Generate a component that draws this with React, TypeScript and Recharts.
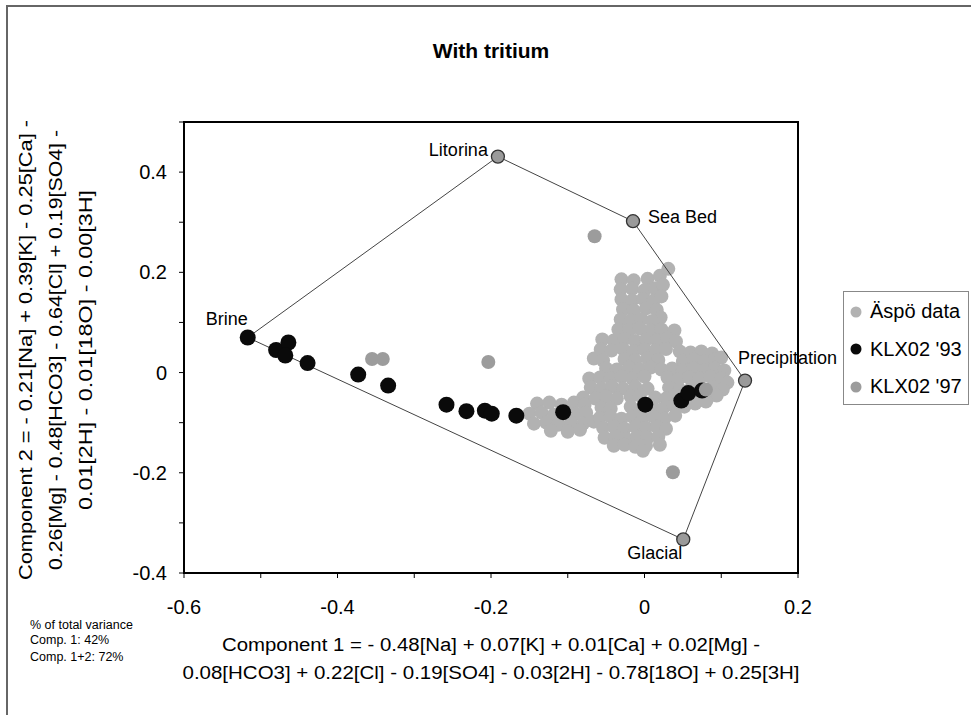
import React from 'react';
import { ScatterChart, Scatter, XAxis, YAxis, ReferenceArea } from 'recharts';

const FONT = '"Liberation Sans", Arial, sans-serif';

// ---------- data ----------
const xTicks = [-0.6, -0.5, -0.4, -0.3, -0.2, -0.1, 0, 0.1, 0.2];
const yTicks = [-0.4, -0.3, -0.2, -0.1, 0, 0.1, 0.2, 0.3, 0.4, 0.5];

// Äspö data (light grey cloud)
const aspoPoints: [number, number][] = [
  [-0.030, 0.186], [-0.014, 0.184], [0.004, 0.187], [0.020, 0.193], [0.031, 0.207],
  [-0.031, 0.166], [-0.016, 0.167], [0.000, 0.164], [0.014, 0.168], [0.024, 0.175],
  [-0.030, 0.146], [-0.016, 0.144], [-0.002, 0.147], [0.012, 0.144], [0.022, 0.152],
  [-0.028, 0.126], [-0.014, 0.124], [0.002, 0.128], [0.016, 0.125], [0.021, 0.110],
  [-0.031, 0.106], [-0.018, 0.104], [-0.004, 0.107], [0.010, 0.103],
  [-0.034, 0.086], [-0.020, 0.085], [-0.006, 0.088], [0.008, 0.084], [0.022, 0.086], [0.039, 0.084],
  [-0.055, 0.066], [-0.040, 0.064], [-0.026, 0.067], [-0.012, 0.063], [0.002, 0.066], [0.016, 0.064], [0.030, 0.068], [0.041, 0.062],
  [-0.057, 0.046], [-0.043, 0.044], [-0.028, 0.047], [-0.014, 0.043], [0.000, 0.046], [0.014, 0.044], [0.028, 0.047], [0.046, 0.042], [0.060, 0.040], [0.074, 0.042], [0.088, 0.038],
  [-0.066, 0.028], [-0.054, 0.024], [-0.026, 0.027], [-0.012, 0.024], [0.004, 0.028], [0.018, 0.025], [0.050, 0.022], [0.064, 0.026], [0.078, 0.022], [0.092, 0.026], [0.100, 0.030],
  [-0.050, 0.008], [-0.036, 0.006], [-0.020, 0.010], [-0.006, 0.006], [0.008, 0.010], [0.022, 0.006], [0.036, 0.008], [0.050, 0.004], [0.064, 0.008], [0.078, 0.004], [0.092, 0.008], [0.104, 0.004],
  [-0.072, -0.012], [-0.058, -0.010], [-0.044, -0.012], [-0.030, -0.008], [-0.016, -0.012], [0.000, -0.008], [0.030, -0.010], [0.044, -0.014], [0.058, -0.010], [0.072, -0.012], [0.086, -0.008], [0.100, -0.012], [0.108, -0.020],
  [-0.070, -0.030], [-0.056, -0.032], [-0.042, -0.028], [-0.028, -0.032], [-0.012, -0.028], [0.004, -0.032], [0.032, -0.030], [0.046, -0.034], [0.062, -0.028], [0.090, -0.030], [0.102, -0.034],
  [-0.080, -0.050], [-0.064, -0.052], [-0.050, -0.048], [-0.036, -0.052], [-0.018, -0.048], [-0.006, -0.046], [0.014, -0.050], [0.028, -0.052], [0.040, -0.046], [0.068, -0.050], [0.082, -0.052], [0.094, -0.046],
  [-0.140, -0.062], [-0.124, -0.060], [-0.108, -0.064], [-0.092, -0.060], [-0.078, -0.064],
  [-0.150, -0.082], [-0.134, -0.080], [-0.118, -0.084], [-0.090, -0.082], [-0.076, -0.080],
  [-0.144, -0.102], [-0.128, -0.100], [-0.112, -0.104], [-0.096, -0.100], [-0.080, -0.102], [-0.066, -0.098],
  [-0.122, -0.116], [-0.100, -0.118], [-0.084, -0.114],
  [-0.056, -0.070], [-0.044, -0.072], [-0.018, -0.068], [-0.004, -0.072], [0.010, -0.068], [0.024, -0.072], [0.038, -0.066], [0.052, -0.068], [0.066, -0.062], [0.080, -0.058],
  [-0.058, -0.090], [-0.044, -0.088], [-0.030, -0.092], [-0.016, -0.088], [-0.002, -0.090], [0.012, -0.088], [0.026, -0.092], [0.040, -0.086],
  [-0.054, -0.110], [-0.040, -0.108], [-0.026, -0.112], [-0.012, -0.108], [0.002, -0.110], [0.016, -0.108], [0.028, -0.112],
  [-0.052, -0.130], [-0.038, -0.128], [-0.024, -0.132], [-0.010, -0.128], [0.004, -0.130], [0.018, -0.128],
  [-0.040, -0.146], [-0.026, -0.144], [-0.012, -0.148], [0.002, -0.146], [0.020, -0.144],
  [-0.002, -0.156],
];

// KLX02 '93 (black)
const klx93Points: [number, number][] = [
  [-0.517, 0.070], [-0.480, 0.045], [-0.464, 0.060], [-0.468, 0.034], [-0.439, 0.019],
  [-0.373, -0.004], [-0.334, -0.026], [-0.258, -0.064], [-0.232, -0.077], [-0.208, -0.076],
  [-0.199, -0.082], [-0.167, -0.086], [-0.106, -0.079], [0.001, -0.064], [0.048, -0.056],
  [0.057, -0.041], [0.075, -0.036],
];

// KLX02 '97 (grey)
const klx97Points: [number, number][] = [
  [-0.355, 0.027], [-0.341, 0.027], [-0.2035, 0.021], [-0.065, 0.272], [0.037, -0.199], [0.080, -0.034],
];

// End-members
const endNames = ['Brine', 'Litorina', 'Sea Bed', 'Precipitation', 'Glacial'];
const endX = [-0.517, -0.191, -0.015, 0.131, 0.0505];
const endY = [0.070, 0.431, 0.302, -0.016, -0.333];
// polygon order (closed)
const polygonOrder = [0, 1, 2, 3, 4, 0];

const seriesNames = ['Äspö data', "KLX02 '93", "KLX02 '97"];

// ---------- derived ----------
const toObj = (arr: [number, number][]) => arr.map(([x, y]) => ({ x, y }));
const aspoData = toObj(aspoPoints);
const klx93Data = toObj(klx93Points);
const klx97Data = toObj(klx97Points);
const endData = endNames.map((name, i) => ({ name, x: endX[i], y: endY[i] }));
const polygonData = polygonOrder.map((i) => ({ x: endX[i], y: endY[i] }));

const COLORS = { aspo: '#b2b2b2', k93: '#0a0a0a', k97: '#9c9c9c', end: '#9a9a9a' };
const seriesColors = [COLORS.aspo, COLORS.k93, COLORS.k97];

const labelPlacement: Record<string, { dx: number; dy: number; anchor: 'start' | 'end' }> = {
  Brine: { dx: 0, dy: -18, anchor: 'end' },
  Litorina: { dx: -10, dy: -7, anchor: 'end' },
  'Sea Bed': { dx: 15, dy: -4, anchor: 'start' },
  Precipitation: { dx: -7, dy: -23, anchor: 'start' },
  Glacial: { dx: -1, dy: 14, anchor: 'end' },
};

const fmt = (v: number) => {
  const r = Math.round(v * 10) / 10;
  return r === 0 ? '0' : String(r);
};
const isMajor = (v: number) => Math.abs(Math.round(v * 10)) % 2 === 0;

const YTick = (props: any) => {
  const { x, y, payload } = props;
  const v = payload.value;
  if (!isMajor(v) || v > 0.45) return <g />;
  return (
    <text x={x} y={y} textAnchor="end" dominantBaseline="central" fontSize={20} fontFamily={FONT} fill="#000">
      {fmt(v)}
    </text>
  );
};

const XTick = (props: any) => {
  const { x, y, payload } = props;
  const v = payload.value;
  if (!isMajor(v)) return <g />;
  return (
    <text x={x} y={y} dy="0.71em" textAnchor="middle" fontSize={20} fontFamily={FONT} fill="#000">
      {fmt(v)}
    </text>
  );
};

const circleShape = (r: number, fill: string) => (p: any) =>
  <circle cx={p.cx} cy={p.cy} r={r} fill={fill} />;

const EndShape = (p: any) => {
  const name = p.payload?.name as string;
  const pl = labelPlacement[name];
  return (
    <g>
      <circle cx={p.cx} cy={p.cy} r={6.5} fill={COLORS.end} stroke="#333" strokeWidth={1.3} />
      {pl && (
        <text
          x={p.cx + pl.dx}
          y={p.cy + pl.dy}
          textAnchor={pl.anchor}
          dominantBaseline="central"
          fontSize={18}
          fontFamily={FONT}
          fill="#000"
        >
          {name}
        </text>
      )}
    </g>
  );
};

const LegendBox = () => (
  <div
    style={{
      position: 'absolute',
      left: 843,
      top: 291,
      border: '1px solid #888',
      width: 126,
      height: 114,
      boxSizing: 'border-box',
      background: '#fff',
      fontFamily: FONT,
      paddingTop: 1,
    }}
  >
    {seriesNames.map((name, i) => (
      <div key={name} style={{ display: 'flex', alignItems: 'center', height: 37.5, whiteSpace: 'nowrap' }}>
        <svg width={26} height={20} style={{ flex: 'none' }}>
          <circle cx={12} cy={10} r={5.5} fill={seriesColors[i]} />
        </svg>
        <span style={{ fontSize: 20, color: '#000' }}>{name}</span>
      </div>
    ))}
  </div>
);

export default function App() {
  return (
    <div style={{ position: 'absolute', left: 0, top: 0, width: 971, height: 715, background: '#fff', overflow: 'hidden' }}>
      <div
        style={{
          position: 'absolute',
          left: 6,
          top: 5,
          width: 1000,
          height: 800,
          borderTop: '2px solid #666',
          borderLeft: '2px solid #666',
        }}
      />
      <div style={{ position: 'absolute', left: 0, top: 0 }}>
        <ScatterChart width={971} height={715} margin={{ top: 122, right: 173, bottom: 0, left: 0 }}>
          <XAxis
            type="number"
            dataKey="x"
            domain={[-0.6, 0.2]}
            ticks={xTicks}
            interval={0}
            height={142}
            axisLine={false}
            tickLine={{ stroke: '#000', strokeWidth: 1 }}
            tickSize={5}
            tickMargin={22}
            tick={<XTick />}
          />
          <YAxis
            type="number"
            dataKey="y"
            domain={[-0.4, 0.5]}
            ticks={yTicks}
            interval={0}
            width={184}
            axisLine={false}
            tickLine={{ stroke: '#000', strokeWidth: 1 }}
            tickSize={5}
            tickMargin={12}
            tick={<YTick />}
          />
          <ReferenceArea x1={-0.6} x2={0.2} y1={-0.4} y2={0.5} fill="none" stroke="#000" strokeWidth={2} ifOverflow="visible" />
          <Scatter
            name={seriesNames[0]}
            data={aspoData}
            fill={COLORS.aspo}
            shape={circleShape(7, COLORS.aspo)}
            isAnimationActive={false}
          />
          <Scatter
            name="polygon"
            data={polygonData}
            fill="#444"
            line={{ stroke: '#444', strokeWidth: 1 }}
            shape={() => <g />}
            legendType="none"
            isAnimationActive={false}
          />
          <Scatter
            name="End-members"
            data={endData}
            fill={COLORS.end}
            shape={EndShape}
            legendType="none"
            isAnimationActive={false}
          />
          <Scatter
            name={seriesNames[1]}
            data={klx93Data}
            fill={COLORS.k93}
            shape={circleShape(8, COLORS.k93)}
            isAnimationActive={false}
          />
          <Scatter
            name={seriesNames[2]}
            data={klx97Data}
            fill={COLORS.k97}
            shape={circleShape(7, COLORS.k97)}
            isAnimationActive={false}
          />
        </ScatterChart>
      </div>
      <LegendBox />
      <svg
        width={971}
        height={715}
        style={{ position: 'absolute', left: 0, top: 0, pointerEvents: 'none' }}
        fontFamily={FONT}
      >
        <text x={491} y={58} textAnchor="middle" fontSize={21} fontWeight="bold" fill="#000">
          With tritium
        </text>
        <g fontSize={18} fill="#000">
          <text x={26} y={350} transform="rotate(-90 26 350)" textAnchor="middle" dominantBaseline="central" textLength={460} lengthAdjust="spacingAndGlyphs">
            Component 2 = - 0.21[Na] + 0.39[K] - 0.25[Ca] -
          </text>
          <text x={56} y={350} transform="rotate(-90 56 350)" textAnchor="middle" dominantBaseline="central" textLength={440} lengthAdjust="spacingAndGlyphs">
            0.26[Mg] - 0.48[HCO3] - 0.64[Cl] + 0.19[SO4] -
          </text>
          <text x={86} y={350} transform="rotate(-90 86 350)" textAnchor="middle" dominantBaseline="central" textLength={320} lengthAdjust="spacingAndGlyphs">
            0.01[2H] - 0.01[18O] - 0.00[3H]
          </text>
          <text x={491} y={645} textAnchor="middle" dominantBaseline="central" textLength={538} lengthAdjust="spacingAndGlyphs">
            Component 1 = - 0.48[Na] + 0.07[K] + 0.01[Ca] + 0.02[Mg] -
          </text>
          <text x={491} y={673} textAnchor="middle" dominantBaseline="central" textLength={617} lengthAdjust="spacingAndGlyphs">
            0.08[HCO3] + 0.22[Cl] - 0.19[SO4] - 0.03[2H] - 0.78[18O] + 0.25[3H]
          </text>
        </g>
        <g fontSize={12.5} fill="#000">
          <text x={30} y={629}>% of total variance</text>
          <text x={30} y={644}>Comp. 1: 42%</text>
          <text x={30} y={661}>Comp. 1+2: 72%</text>
        </g>
      </svg>
    </div>
  );
}
